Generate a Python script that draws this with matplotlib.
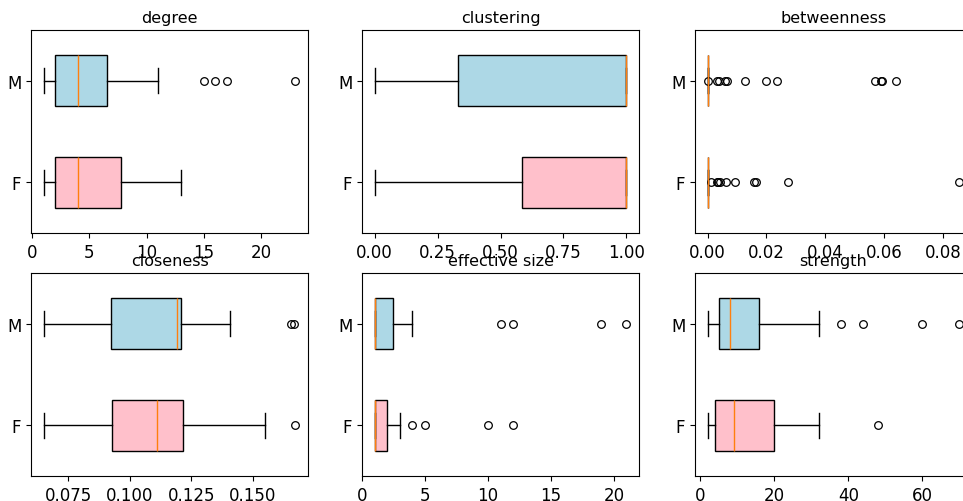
import numpy as np
import matplotlib
matplotlib.use("Agg")
import matplotlib.pyplot as plt
from matplotlib.ticker import FormatStrFormatter

groups = ["F", "M"]
titles = ["degree", "clustering", "betweenness", "closeness", "effective size", "strength"]

# box stats per metric, order [F, M]
whislo = {
    "degree": [1, 1],
    "clustering": [0.0, 0.0],
    "betweenness": [0.0, 0.0],
    "closeness": [0.0651, 0.0651],
    "effective size": [1, 1],
    "strength": [2, 2],
}
q1 = {
    "degree": [2, 2],
    "clustering": [0.587, 0.333],
    "betweenness": [0.0, 0.0],
    "closeness": [0.0928, 0.0924],
    "effective size": [1, 1],
    "strength": [4, 5],
}
med = {
    "degree": [4, 4],
    "clustering": [1.0, 1.0],
    "betweenness": [0.0, 0.0],
    "closeness": [0.1112, 0.1191],
    "effective size": [1, 1],
    "strength": [9, 8],
}
q3 = {
    "degree": [7.75, 6.5],
    "clustering": [1.0, 1.0],
    "betweenness": [0.0, 0.0001],
    "closeness": [0.1218, 0.1208],
    "effective size": [2, 2.5],
    "strength": [20, 16],
}
whishi = {
    "degree": [13, 11],
    "clustering": [1.0, 1.0],
    "betweenness": [0.0, 0.0002],
    "closeness": [0.155, 0.1408],
    "effective size": [3, 4],
    "strength": [32, 32],
}
fliers = {
    "degree": [[], [15, 16, 17, 23]],
    "clustering": [[], []],
    "betweenness": [
        [0.0011, 0.0031, 0.0036, 0.0041, 0.0063, 0.0094, 0.0157, 0.0166, 0.0274, 0.0856],
        [0.0002, 0.0031, 0.004, 0.006, 0.0065, 0.0126, 0.020, 0.0236, 0.057, 0.0588, 0.0592, 0.0639],
    ],
    "closeness": [[0.1672], [0.1656, 0.1668]],
    "effective size": [[4, 5, 10, 12], [11, 12, 19, 21]],
    "strength": [[48], [38, 44, 60, 70]],
}
colors = ["pink", "lightblue"]

# x ticks where the default locator differs from the reference
xticks = {
    "clustering": ([0.0, 0.25, 0.5, 0.75, 1.0], "%.2f"),
    "closeness": ([0.075, 0.1, 0.125, 0.15], "%.3f"),
}

W, H = 963, 502
fig = plt.figure(figsize=(W / 100, H / 100), dpi=100)

col_left = [31, 362, 695]
col_width = 277
row_top = [31, 274]
row_height = 203

for i, name in enumerate(titles):
    r, c = divmod(i, 3)
    ax = fig.add_axes([col_left[c] / W, (H - row_top[r] - row_height) / H,
                       col_width / W, row_height / H])
    stats = []
    for g in range(2):
        stats.append({
            "whislo": whislo[name][g], "q1": q1[name][g], "med": med[name][g],
            "q3": q3[name][g], "whishi": whishi[name][g], "fliers": fliers[name][g],
            "label": groups[g],
        })
    bp = ax.bxp(stats, positions=[1, 2], widths=0.5, vert=False, patch_artist=True,
                flierprops=dict(marker="o", markersize=5.5, markerfacecolor="none",
                                markeredgecolor="black", markeredgewidth=0.9))
    for patch, col in zip(bp["boxes"], colors):
        patch.set_facecolor(col)
    ax.set_ylim(0.5, 2.5)
    if name in xticks:
        ticks, fmt = xticks[name]
        ax.set_xticks(ticks)
        ax.xaxis.set_major_formatter(FormatStrFormatter(fmt))
    ax.set_title(name, fontsize=11.5)
    ax.tick_params(labelsize=12)

fig.savefig("out.png", dpi=100)
